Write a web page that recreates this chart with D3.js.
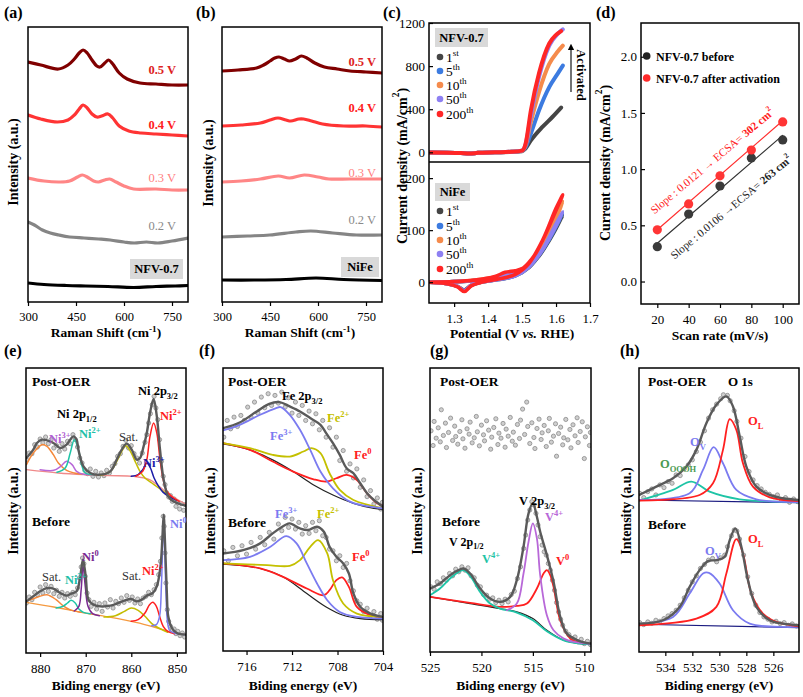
<!DOCTYPE html>
<html><head><meta charset="utf-8">
<script src="https://cdn.jsdelivr.net/npm/d3@7"></script>
<style>body{margin:0;background:#fff}svg{display:block}</style>
</head><body>
<script>
// ================= DATA =================
// (a)/(b) Raman
const ramanTicks=[300,450,600,750];
const ramanLabels=['0.5 V','0.4 V','0.3 V','0.2 V'];
const ramanA_05=[[300,240],[340,237],[395,233],[425,237],[445,243],[460,249],[472,252],[485,249],[500,242],[515,236],[525,235],[540,239],[552,242],[565,238],[585,229],[610,223],[650,219],[700,218],[750,217],[800,217]];
const ramanA_04=[[300,187],[340,183],[392,180],[425,182],[445,187],[460,193],[472,197],[485,194],[500,188],[515,185],[530,186],[550,188],[565,184],[585,176],[615,171],[653,169],[700,168],[750,167],[800,166]];
const ramanA_03=[[300,124],[350,121],[400,120],[430,121],[455,125],[470,127],[485,125],[505,121],[520,120],[540,122],[555,123],[575,120],[600,116],[630,113],[700,113],[750,112],[800,112]];
const ramanA_02=[[300,80],[320,77],[345,72],[370,69],[396,67],[430,65],[475,64],[520,63],[557,62],[600,60],[632,59],[670,60],[706,59],[750,61],[800,64]];
const ramanA_00=[[300,19],[350,17.5],[420,16.5],[480,16],[550,15.5],[630,14.5],[700,15.5],[760,16],[800,16.5]];
const ramanB_05=[[300,231],[350,232],[408,234],[430,237],[450,241],[465,244],[478,245],[495,243],[511,241],[530,243],[548,246],[565,244],[590,239],[620,235],[660,233],[700,231],[750,230],[800,229]];
const ramanB_04=[[300,176],[360,177],[420,179],[450,182],[475,184],[500,182],[515,181],[540,183],[555,183],[580,181],[614,178],[680,176],[750,176],[800,175]];
const ramanB_03=[[300,120],[360,121],[420,123],[476,126],[511,124],[557,127],[600,125],[634,123],[700,123],[800,123]];
const ramanB_02=[[300,65],[380,66],[449,67],[531,70],[578,71],[646,69],[720,67],[800,67]];
const ramanB_00=[[300,22],[400,22],[500,22.5],[594,24],[680,22.5],[800,21.5]];

// (c) polarization curves
const cycleNames=['1','5','10','50','200'];
const cycleSup=['st','th','th','th','th'];
const nfv1=[[1.226,-2],[1.28,-3],[1.32,-6],[1.345,-12],[1.37,-5],[1.42,0],[1.47,4],[1.50,10],[1.51,35],[1.526,110],[1.56,235],[1.59,330],[1.615,415]];
const nfv5=[[1.226,-2],[1.28,-3],[1.32,-6],[1.345,-12],[1.37,-5],[1.42,0],[1.47,5],[1.50,14],[1.51,45],[1.526,175],[1.55,390],[1.58,605],[1.605,730],[1.62,805]];
const nfv10=[[1.226,-2],[1.28,-3],[1.32,-6],[1.345,-12],[1.37,-5],[1.42,0],[1.47,5],[1.50,15],[1.51,60],[1.526,280],[1.55,560],[1.58,820],[1.605,935],[1.62,990]];
const nfv50=[[1.226,-2],[1.28,-3],[1.32,-6],[1.345,-12],[1.37,-5],[1.42,0],[1.47,5],[1.50,16],[1.51,70],[1.526,340],[1.55,700],[1.58,990],[1.605,1100],[1.62,1140]];
const nfv200=[[1.226,-2],[1.28,-3],[1.32,-6],[1.345,-12],[1.37,-5],[1.42,0],[1.47,5],[1.50,16],[1.51,75],[1.526,390],[1.55,735],[1.58,1010],[1.60,1090],[1.615,1125]];
const nife1=[[1.226,0],[1.30,1],[1.36,3],[1.42,8],[1.46,15],[1.49,20],[1.52,30],[1.55,50],[1.58,80],[1.60,103],[1.62,128],[1.60,106],[1.56,60],[1.52,28],[1.48,12],[1.43,5],[1.38,0],[1.35,-6],[1.33,-15],[1.31,-8],[1.27,-2],[1.226,0]];
const nife5=[[1.226,0],[1.30,1],[1.36,3],[1.42,8],[1.46,15],[1.49,20],[1.52,31],[1.55,52],[1.58,82],[1.60,106],[1.62,132],[1.60,110],[1.56,62],[1.52,29],[1.48,12],[1.43,5],[1.38,0],[1.35,-6],[1.33,-16],[1.31,-8],[1.27,-2],[1.226,0]];
const nife10=[[1.226,0],[1.30,1],[1.36,4],[1.42,10],[1.46,18],[1.49,22],[1.52,35],[1.55,60],[1.58,95],[1.60,122],[1.62,155],[1.60,128],[1.56,72],[1.52,33],[1.48,14],[1.43,6],[1.38,0],[1.35,-6],[1.33,-17],[1.31,-8],[1.27,-2],[1.226,0]];
const nife50=[[1.226,0],[1.30,1],[1.36,3],[1.42,8],[1.46,15],[1.49,20],[1.52,31],[1.55,52],[1.58,84],[1.60,108],[1.62,135],[1.60,112],[1.56,63],[1.52,29],[1.48,12],[1.43,5],[1.38,0],[1.35,-6],[1.33,-16],[1.31,-8],[1.27,-2],[1.226,0]];
const nife200=[[1.226,0],[1.30,1],[1.36,4],[1.42,11],[1.45,19],[1.48,22],[1.50,26],[1.52,38],[1.54,55],[1.56,80],[1.58,108],[1.60,138],[1.62,168],[1.60,142],[1.56,80],[1.52,36],[1.48,15],[1.43,6],[1.38,0],[1.35,-7],[1.33,-18],[1.31,-9],[1.27,-2],[1.226,0]];
const cTicksX=[1.3,1.4,1.5,1.6,1.7];
const cTicksUp=[0,400,800,1200];
const cTicksLow=[0,100,200];

// (d) ECSA
const scanRate=[20,40,60,80,100];
const jBefore=[0.31,0.60,0.85,1.10,1.26];
const jAfter=[0.46,0.69,0.94,1.17,1.42];
const fitBefore=[[20,0.34],[100,1.30]];
const fitAfter=[[20,0.46],[100,1.43]];
const dTicksY=[0,0.5,1.0,1.5,2.0];
const legendD=['NFV-0.7 before','NFV-0.7 after activation'];

// (e) Ni 2p XPS
const eTicks=[880,870,860,850];
const ePostRaw=[[883.0,580],[882.4,600],[881.8,598],[881.2,625],[880.6,618],[880.0,642],[879.4,630],[878.8,648],[878.2,628],[877.6,640],[877.0,615],[876.4,622],[875.8,605],[875.2,628],[874.6,612],[874.0,635],[873.4,628],[872.8,655],[872.3,640],[871.8,618],[871.3,585],[870.8,570],[870.2,548],[869.6,538],[869.0,552],[868.4,530],[867.8,545],[867.2,528],[866.6,540],[866.0,532],[865.4,548],[864.8,540],[864.2,560],[863.6,568],[863.0,590],[862.4,598],[861.8,620],[861.2,638],[860.6,615],[860.0,622],[859.4,598],[858.8,585],[858.2,570],[857.6,600],[857.0,632],[856.6,655],[856.2,690],[855.8,718],[855.4,745],[855.0,770],[854.6,735],[854.2,700],[853.8,640],[853.4,575],[853.0,530],[852.6,505],[852.2,480],[851.8,468],[851.4,472],[851.0,455],[850.6,462],[850.2,440],[849.8,450],[849.4,432],[849.0,448],[848.5,428],[848.1,445]];
const ePostFit=[[883.0,585],[881.5,610],[880.7,630],[879.6,640],[878.5,638],[877.1,630],[876.0,618],[875.6,615],[874.2,625],[873.4,640],[872.7,650],[872.0,640],[871.6,610],[870.5,560],[869.0,540],[866.8,535],[864.6,545],[863.2,580],[862.1,610],[861.0,628],[859.9,610],[858.8,580],[858.1,585],[857.3,620],[856.6,660],[855.9,720],[855.1,762],[854.4,710],[853.7,610],[852.9,520],[851.9,470],[850.8,455],[848.9,445],[848.0,442]];
const ePostBg=[[883.0,550],[876,540],[870.5,535],[865,532],[859.5,530],[856,520],[853,490],[851,470],[848.5,450],[848.0,447]];
const ePostSat12=[[883.0,565],[881.5,600],[879.6,625],[878.5,620],[877.1,595],[876.0,570],[874.2,548],[872.5,540],[870.5,536],[867,534]];
const ePostNi3_12=[[880,550],[877,548],[875.5,560],[874.2,575],[873.0,565],[872.0,545],[870.5,536],[868,535]];
const ePostNi2_12=[[876.3,542],[874.5,555],[873.4,600],[872.5,640],[871.6,610],[870.8,560],[870.1,540],[868,535]];
const ePostSat32=[[866.8,533],[864.6,545],[863.2,575],[862.1,605],[861.2,622],[860.2,605],[859.0,570],[858.1,545],[857.0,525],[855.5,510],[854.0,495],[852.0,475],[850.0,458]];
const ePostNi3_32=[[860,530],[858.5,535],[857.5,550],[856.6,570],[855.8,555],[855.0,525],[854.0,500],[853.0,482],[851.5,468],[850,458]];
const ePostNi2_32=[[859,530],[857.5,545],[856.6,580],[855.9,650],[855.1,690],[854.4,660],[853.7,580],[853.0,520],[852.2,485],[851.0,468],[849.5,455]];
const eBefRaw=[[883.0,150],[882.4,168],[881.8,160],[881.2,182],[880.6,175],[880.0,198],[879.4,180],[878.8,205],[878.2,185],[877.6,200],[877.0,178],[876.4,188],[875.8,170],[875.2,182],[874.6,165],[874.0,178],[873.4,170],[872.8,182],[872.3,175],[871.8,195],[871.4,225],[871.0,258],[870.7,285],[870.4,268],[870.1,230],[869.7,180],[869.3,160],[868.8,140],[868.2,152],[867.6,132],[867.0,148],[866.4,125],[865.8,150],[865.2,138],[864.6,160],[864.0,135],[863.4,155],[862.8,148],[862.2,165],[861.6,152],[861.0,172],[860.4,158],[859.8,168],[859.2,150],[858.6,162],[858.0,148],[857.4,165],[856.8,170],[856.2,182],[855.6,175],[855.0,190],[854.5,205],[854.0,235],[853.6,275],[853.3,345],[853.0,410],[852.8,380],[852.6,300],[852.4,210],[852.1,130],[851.8,95],[851.4,80],[851.0,68],[850.6,72],[850.2,58],[849.8,65],[849.3,52],[848.8,60],[848.3,48]];
const eBefFit=[[883.0,155],[881.5,170],[880.0,185],[878.5,195],[877.1,193],[875.6,180],[874.2,172],[873.2,178],[872.0,185],[871.2,230],[870.6,280],[870.0,230],[869.4,160],[868.3,145],[866.8,140],[864.6,142],[863.2,148],[861.4,158],[860.0,162],[858.8,155],[857.7,160],[856.6,172],[855.3,180],[854.4,200],[853.6,260],[853.2,340],[852.9,415],[852.6,330],[852.2,180],[851.9,110],[851.1,75],[850.0,60],[848.0,55]];
const eBefBg=[[883.0,152],[877,138],[871,122],[865,108],[859,92],[855,78],[851,62],[848,55]];
const eBefSat12=[[883.0,155],[880.5,168],[878.5,175],[876.5,160],[875.0,142],[873.5,130],[871,122]];
const eBefNi2_12=[[876.5,135],[875.0,140],[874.0,150],[873.2,158],[872.3,150],[871.5,132],[870.5,122],[869,118]];
const eBefNi0_12=[[872.5,126],[871.5,140],[871.0,190],[870.6,262],[870.1,200],[869.5,140],[868.5,118],[867,112]];
const eBefSat32=[[866,108],[863.5,112],[861.5,125],[860.0,135],[858.5,128],[857.0,110],[855.5,88],[854.0,75],[852,62]];
const eBefNi2_32=[[860,95],[858.5,100],[857.0,120],[856.0,145],[855.3,152],[854.5,140],[853.8,110],[853.0,80],[852,65],[850.5,58]];
const eBefNi0_32=[[855.5,82],[854.5,85],[853.8,110],[853.4,200],[853.1,330],[852.9,405],[852.7,330],[852.4,180],[852.1,100],[851.6,68],[850.5,60],[848,55]];

// (f) Fe 2p XPS
const fTicks=[716,712,708,704];
const fPostRaw=[[718.0,640],[717.7,690],[717.4,665],[717.1,700],[716.8,672],[716.5,705],[716.2,690],[715.9,730],[715.6,700],[715.3,745],[715.0,712],[714.7,760],[714.4,728],[714.1,770],[713.8,735],[713.5,765],[713.2,742],[712.9,775],[712.6,730],[712.3,758],[712.0,712],[711.7,745],[711.4,705],[711.1,735],[710.8,690],[710.5,718],[710.2,680],[709.9,710],[709.6,662],[709.3,690],[709.0,640],[708.7,668],[708.4,610],[708.1,640],[707.8,570],[707.5,600],[707.2,538],[706.9,560],[706.6,518],[706.3,545],[706.0,490],[705.7,512],[705.4,462],[705.1,480],[704.8,440],[704.5,458],[704.2,425],[704.05,445]];
const fPostFit=[[718.07,667],[716.6,684],[715.1,717],[714.0,740],[713.1,745],[712.2,732],[711.3,717],[710.4,697],[709.5,677],[709.0,652],[708.4,622],[707.8,587],[707.2,547],[706.6,532],[706.0,502],[705.4,472],[704.8,452],[704.0,432]];
const fPostFe3=[[718.07,660],[716.6,677],[714.8,707],[713.4,727],[713.0,730],[712.2,707],[711.3,662],[710.4,602],[709.5,537],[708.4,487],[706.9,447],[704.0,427]];
const fPostFe2=[[718.07,622],[715.7,607],[713.7,587],[712.2,582],[711.0,597],[710.3,607],[709.5,592],[708.7,532],[707.8,482],[706.6,452],[704.0,427]];
const fPostFe0=[[718.07,622],[715.7,602],[713.7,567],[711.9,537],[710.1,514],[709.0,507],[708.1,517],[707.2,527],[706.3,512],[705.4,472],[704.5,442],[704.0,434]];
const fPostBg=[[718.07,620],[715.7,602],[713.7,572],[711.9,537],[710.1,497],[708.4,467],[706.6,442],[704.8,427],[704.0,424]];
const fBefRaw=[[718.0,300],[717.6,270],[717.2,310],[716.8,285],[716.4,315],[716.0,290],[715.6,325],[715.2,305],[714.8,340],[714.4,318],[714.0,355],[713.6,335],[713.2,380],[712.9,360],[712.6,400],[712.3,370],[712.0,395],[711.7,365],[711.4,385],[711.1,350],[710.8,375],[710.5,352],[710.2,385],[709.9,360],[709.6,390],[709.3,345],[709.0,340],[708.7,305],[708.4,300],[708.1,270],[707.8,285],[707.5,250],[707.2,262],[706.9,210],[706.6,180],[706.3,150],[706.0,140],[705.7,118],[705.4,128],[705.1,105],[704.8,118],[704.5,95],[704.2,112],[704.05,92]];
const fBefFit=[[718.07,292],[716.3,302],[714.8,322],[713.7,352],[712.6,377],[712.2,382],[711.3,367],[710.6,362],[709.8,372],[709.2,357],[708.7,312],[708.1,282],[707.5,262],[707.0,232],[706.6,172],[706.0,132],[705.1,112],[704.0,102]];
const fBefFe3=[[718.07,272],[715.7,282],[713.9,312],[712.5,344],[711.6,322],[710.7,262],[709.8,202],[708.9,152],[707.8,117],[706.3,102],[704.0,97]];
const fBefFe2=[[718.07,262],[714.2,257],[712.2,255],[711.3,272],[710.4,312],[709.7,332],[708.9,292],[708.4,212],[707.5,142],[706.3,112],[704.0,102]];
const fBefFe0=[[718.07,262],[714.8,247],[712.8,222],[710.7,187],[709.2,167],[708.7,182],[708.1,212],[707.6,220],[707.0,192],[706.3,132],[705.1,107],[704.0,100]];
const fBefBg=[[718.07,260],[714.8,247],[712.8,222],[710.7,172],[709.0,132],[707.5,107],[706.0,97],[704.0,94]];

// (g) V 2p XPS
const gTicks=[525,520,515,510];
const gPostRaw=[[524.9,662],[524.7,618],[524.6,690],[524.4,640],[524.2,671],[524.0,629],[523.9,725],[523.7,648],[523.5,685],[523.4,612],[523.2,657],[523.0,700],[522.8,633],[522.6,676],[522.5,645],[522.3,622],[522.1,660],[521.9,695],[521.8,638],[521.6,610],[521.4,668],[521.2,652],[521.1,688],[520.9,626],[520.7,641],[520.5,705],[520.4,659],[520.2,617],[520.0,679],[519.8,650],[519.7,632],[519.5,692],[519.3,664],[519.1,607],[519.0,643],[518.8,672],[518.6,698],[518.4,621],[518.3,655],[518.1,640],[517.9,684],[517.7,613],[517.6,667],[517.4,646],[517.2,702],[517.0,631],[516.9,658],[516.7,619],[516.5,681],[516.3,639],[516.2,694],[516.0,727],[515.8,651],[515.6,748],[515.5,675],[515.3,624],[515.1,686],[514.9,642],[514.8,609],[514.6,669],[514.4,697],[514.2,636],[514.1,656],[513.9,678],[513.7,615],[513.5,662],[513.4,699],[513.2,628],[513.0,646],[512.8,683],[512.7,586],[512.5,654],[512.3,673],[512.1,620],[512.0,641],[511.8,696],[511.6,635],[511.4,666],[511.3,611],[511.1,680],[510.9,647],[510.7,701],[510.6,627],[510.4,660],[510.2,689],[510.0,579],[509.9,644],[509.7,674],[509.5,618],[509.4,657]];
const gBefRaw=[[524.9,195],[524.6,188],[524.3,210],[524.0,205],[523.7,222],[523.4,215],[523.1,235],[522.8,228],[522.5,248],[522.2,240],[521.9,255],[521.6,245],[521.3,252],[521.0,228],[520.7,222],[520.4,200],[520.1,195],[519.8,172],[519.5,170],[519.2,158],[518.9,162],[518.6,148],[518.3,155],[518.0,145],[517.7,158],[517.4,150],[517.1,172],[516.8,182],[516.5,220],[516.2,255],[515.9,310],[515.7,350],[515.5,395],[515.3,425],[515.1,450],[514.9,440],[514.7,415],[514.5,380],[514.3,345],[514.1,320],[513.9,300],[513.7,290],[513.5,265],[513.3,245],[513.1,215],[512.9,185],[512.7,148],[512.5,120],[512.3,98],[512.1,80],[511.8,62],[511.5,52],[511.2,40],[510.9,45],[510.6,30],[510.3,38],[510.0,25],[509.7,32],[509.4,22]];
const gBefFit=[[525,190],[524.03,205],[523.05,230],[522.08,247],[521.75,250],[521.10,235],[520.13,190],[519.16,160],[518.18,150],[517.21,165],[516.56,215],[515.91,315],[515.42,415],[515.0,445],[514.61,405],[514.29,360],[513.64,290],[512.99,210],[512.34,105],[511.69,55],[510.39,32],[509.35,25]];
const gBefBg=[[525,165],[521.1,145],[518.18,130],[516.56,120],[515.0,100],[513.64,65],[512.0,35],[510.4,25],[509.35,23]];
const gBefV4_12=[[525,170],[524.03,190],[523.05,220],[522.08,242],[521.75,245],[521.1,228],[520.13,180],[519.16,145],[518.18,130],[516.56,118],[515.0,95],[513.64,62],[512.0,35],[510.4,25],[509.35,23]];
const gBefV0=[[525,165],[521.1,147],[518.18,135],[516.56,138],[515.58,145],[514.61,190],[513.96,235],[513.64,245],[513.31,230],[512.99,195],[512.34,95],[511.36,40],[510.39,28],[509.35,24]];
const gBefV4_32=[[517.53,125],[516.56,145],[515.91,235],[515.42,330],[515.0,385],[514.61,340],[514.29,230],[513.64,110],[512.99,65],[512.0,40],[511.0,30],[509.35,24]];

// (h) O 1s XPS
const hTicks=[534,532,530,528,526];
const hPostRaw=[[535.9,475],[535.6,462],[535.3,480],[535.0,488],[534.7,470],[534.4,500],[534.1,492],[533.8,510],[533.5,505],[533.2,530],[532.9,528],[532.6,548],[532.3,560],[532.0,575],[531.7,600],[531.4,628],[531.1,662],[530.8,700],[530.5,725],[530.2,742],[529.9,758],[529.7,770],[529.4,768],[529.2,752],[528.9,722],[528.7,690],[528.4,640],[528.1,585],[527.8,540],[527.5,515],[527.2,498],[526.9,488],[526.6,478],[526.3,472],[526.0,465],[525.7,470],[525.4,455],[525.1,462],[524.8,448],[524.5,458],[524.2,450]];
const hPostFit=[[535.95,470],[534.67,495],[533.43,520],[532.44,555],[531.7,605],[530.96,685],[530.22,740],[529.48,765],[528.99,735],[528.49,645],[528.0,555],[527.26,495],[526.27,470],[525.28,460],[524.17,455]];
const hPostBg=[[535.95,455],[524.1,447]];
const hPostOOOH=[[535.95,453],[533.43,485],[532.07,510],[530.72,480],[528.49,457],[525.78,450],[524.1,448]];
const hPostOV=[[535.95,455],[532.2,475],[531.21,545],[530.42,613],[529.73,565],[528.74,485],[527.26,457],[524.1,449]];
const hPostOL=[[535.95,453],[531.46,470],[530.47,505],[529.73,605],[529.23,697],[528.74,665],[528.25,565],[527.51,495],[526.27,463],[524.1,452]];
const hBefRaw=[[535.9,88],[535.6,82],[535.3,90],[535.0,86],[534.7,95],[534.4,92],[534.1,100],[533.8,108],[533.5,115],[533.2,125],[532.9,140],[532.6,162],[532.3,185],[532.0,210],[531.7,228],[531.4,250],[531.1,262],[530.8,275],[530.5,280],[530.2,270],[529.9,282],[529.6,290],[529.4,315],[529.1,348],[528.9,365],[528.7,362],[528.5,338],[528.2,290],[527.9,225],[527.6,175],[527.3,140],[527.0,118],[526.7,105],[526.4,98],[526.1,90],[525.8,92],[525.5,85],[525.2,88],[524.9,80],[524.6,84],[524.3,78]];
const hBefFit=[[535.95,85],[534.17,95],[532.94,135],[532.2,195],[531.46,245],[530.84,272],[530.22,275],[529.6,285],[529.23,335],[528.81,370],[528.37,315],[527.88,215],[527.26,135],[526.27,95],[525.28,85],[524.17,80]];
const hBefBg=[[535.95,83],[524.1,73]];
const hBefOV=[[535.95,83],[533.43,105],[532.2,175],[531.21,235],[530.77,237],[529.98,205],[528.99,125],[527.75,85],[524.1,75]];
const hBefOL=[[535.95,80],[531.7,100],[530.22,135],[529.48,235],[528.74,338],[528.25,295],[527.63,175],[526.77,115],[525.78,90],[524.1,77]];

// ================= DRAWING =================
const FONT='"Liberation Serif","Times New Roman",serif';
const svg=d3.select('body').append('svg').attr('width',803).attr('height',697).style('font-family',FONT);

function rich(parent,x,y,parts,o={}){
  const size=o.size||12;
  const g=parent.append('g').attr('transform',`translate(${x},${y})`+(o.rotate?` rotate(${o.rotate})`:''));
  const t=g.append('text').attr('font-size',size).attr('font-weight',o.weight||'normal')
    .attr('fill',o.fill||'#000').attr('text-anchor',o.anchor||'start');
  if(o.baseline) t.attr('dominant-baseline',o.baseline);
  let cur=0;
  parts.forEach(p=>{
    const s=(typeof p==='string')?{t:p}:p;
    const target=s.sup?-size*0.4:(s.sub?size*0.28:0);
    const ts=t.append('tspan').text(s.t).attr('dy',target-cur);
    cur=target;
    if(s.sup||s.sub) ts.attr('font-size',size*0.68);
    if(s.w) ts.attr('font-weight',s.w);
    if(s.i) ts.attr('font-style','italic');
    if(s.fill) ts.attr('fill',s.fill);
  });
  return t;
}
function frame(x0,x1,y0,y1){
  svg.append('rect').attr('x',x0).attr('y',y0).attr('width',x1-x0).attr('height',y1-y0)
    .attr('fill','none').attr('stroke','#000').attr('stroke-width',1.5);
}
function xAxis(x,yPos,ticks,pad,fmt,size){
  const a=d3.axisBottom(x).tickValues(ticks).tickSizeInner(4).tickSizeOuter(0).tickPadding(pad);
  if(fmt) a.tickFormat(fmt);
  const g=svg.append('g').attr('transform',`translate(0,${yPos})`).call(a);
  g.select('.domain').remove();
  g.selectAll('text').attr('font-family',FONT).attr('font-size',size||13).attr('fill','#000');
  g.selectAll('line').attr('stroke','#000').attr('stroke-width',1.2);
}
function yAxis(y,xPos,ticks,fmt){
  const a=d3.axisLeft(y).tickValues(ticks).tickSizeInner(-4).tickSizeOuter(0).tickPadding(4);
  if(fmt) a.tickFormat(fmt);
  const g=svg.append('g').attr('transform',`translate(${xPos},0)`).call(a);
  g.select('.domain').remove();
  g.selectAll('text').attr('font-family',FONT).attr('font-size',13).attr('fill','#000');
  g.selectAll('line').attr('stroke','#000').attr('stroke-width',1.2);
}
function path(x,y,data,color,width,curve,clip){
  const line=d3.line().x(d=>x(d[0])).y(d=>y(d[1])).curve(curve||d3.curveCatmullRom.alpha(0.5));
  const p=svg.append('path').datum(data).attr('d',line).attr('fill','none')
    .attr('stroke',color).attr('stroke-width',width).attr('stroke-linejoin','round').attr('stroke-linecap','round');
  if(clip) p.attr('clip-path',`url(#${clip})`);
  return p;
}
function clipRect(id,x0,x1,y0,y1){
  svg.append('clipPath').attr('id',id).append('rect').attr('x',x0).attr('y',y0).attr('width',x1-x0).attr('height',y1-y0);
}
function yTitle(x,y,parts,size){
  rich(svg,x,y,parts,{size:size||14,weight:'bold',anchor:'middle',rotate:-90,baseline:'central'});
}
function xTitle(x,y,parts,size){
  rich(svg,x,y,parts,{size:size||13.5,weight:'bold',anchor:'middle'});
}
function panelLabel(x,y,s){
  svg.append('text').attr('x',x).attr('y',y).attr('font-size',16).attr('font-weight','bold').text(s);
}
function box(x0,y0,w,h,label){
  svg.append('rect').attr('x',x0).attr('y',y0).attr('width',w).attr('height',h).attr('fill','#d9d9d9');
  svg.append('text').attr('x',x0+w/2).attr('y',y0+h/2).attr('dominant-baseline','central')
    .attr('text-anchor','middle').attr('font-size',12.5).attr('font-weight','bold').text(label);
}

// ---- (a) & (b) ----
const ramanColors=['#800000','#ff3434','#ff8686','#858585','#000000'];
const ramanLabelColors=['#dd2222','#ff2020','#ff7f7f','#8a8a8a'];
function ramanPanel(x0,x1,series,labelX,labelYs,boxArgs){
  const y0=27,y1=302;
  const x=d3.scaleLinear().domain([300,800]).range([x0,x1]);
  const y=d3.scaleLinear().domain([0,275]).range([y1,y0]);
  const id='clip'+x0;
  clipRect(id,x0,x1,y0,y1);
  series.forEach((s,i)=>path(x,y,s,ramanColors[i],3.2,null,id));
  ramanLabels.forEach((l,i)=>{
    svg.append('text').attr('x',labelX).attr('y',labelYs[i]).attr('text-anchor','end')
      .attr('font-size',12.5).attr('font-weight',i<2?'bold':'normal').attr('fill',ramanLabelColors[i]).text(l);
  });
  box(...boxArgs);
  frame(x0,x1,y0,y1);
  xAxis(x,y1,ramanTicks,6.5,null,12.5);
  xTitle((x0+x1)/2-2,337,['Raman Shift (cm',{t:'-1',sup:true},')']);
}
ramanPanel(28,188,[ramanA_05,ramanA_04,ramanA_03,ramanA_02,ramanA_00],176,[74,129,182,230],[130,259,53,20,'NFV-0.7']);
yTitle(13,162,['Intensity (a.u.)']);
panelLabel(4,18,'(a)');
ramanPanel(222,382,[ramanB_05,ramanB_04,ramanB_03,ramanB_02,ramanB_00],376,[66,112,177,224],[341,257,38,20,'NiFe']);
yTitle(208,163,['Intensity (a.u.)']);
panelLabel(196,18,'(b)');

// ---- (c) ----
(function(){
  const x0=429,x1=590,y0=23,ym=162,y1=303;
  const x=d3.scaleLinear().domain([1.226,1.7]).range([x0,x1]);
  const yU=d3.scaleLinear().domain([-90,1200]).range([ym,y0]);
  const yL=d3.scaleLinear().domain([-40,231]).range([y1,ym]);
  const cols=['#454545','#3c7be0','#f58b4c','#8e80f2','#ff2626'];
  clipRect('clipCU',x0,x1,y0,ym); clipRect('clipCL',x0,x1,ym,y1);
  [nfv1,nfv5,nfv10,nfv50,nfv200].forEach((s,i)=>path(x,yU,s,cols[i],4,d3.curveMonotoneX,'clipCU'));
  [nife1,nife5,nife10,nife50,nife200].forEach((s,i)=>path(x,yL,s,cols[i],3.6,null,'clipCL'));
  frame(x0,x1,y0,y1);
  svg.append('line').attr('x1',x0).attr('x2',x1).attr('y1',ym).attr('y2',ym).attr('stroke','#000').attr('stroke-width',1.5);
  yAxis(yU,x0,cTicksUp,d3.format('d'));
  yAxis(yL,x0,cTicksLow,d3.format('d'));
  xAxis(x,y1,cTicksX,7,d3.format('.1f'),13);
  box(435,28,53,19,'NFV-0.7');
  box(435,183,35,18,'NiFe');
  const upY=[57,71,85,99,114], loY=[211,226,240,254,269];
  cycleNames.forEach((n,i)=>{
    [upY[i],loY[i]].forEach(yy=>{
      svg.append('circle').attr('cx',440).attr('cy',yy).attr('r',3.3).attr('fill',cols[i]);
      rich(svg,446,yy+4.5,[n,{t:cycleSup[i],sup:true}],{size:13.5});
    });
  });
  svg.append('defs').append('marker').attr('id','arr').attr('viewBox','0 0 10 10').attr('refX',5).attr('refY',5)
    .attr('markerWidth',6).attr('markerHeight',6).attr('orient','auto-start-reverse')
    .append('path').attr('d','M0,0 L10,5 L0,10 z').attr('fill','#000');
  svg.append('line').attr('x1',571).attr('x2',571).attr('y1',92).attr('y2',47).attr('stroke','#000').attr('stroke-width',1.1).attr('marker-end','url(#arr)');
  rich(svg,581,75,['Activated'],{size:12.5,weight:'bold',anchor:'middle',rotate:90,baseline:'central'});
  yTitle(402,166,['Current density (mA/cm',{t:'2',sup:true},')']);
  xTitle(512,338,['Potential (V ',{t:'vs.',i:true},' RHE)']);
  panelLabel(383,18,'(c)');
})();

// ---- (d) ----
(function(){
  const x0=641,x1=799,y0=23,y1=304;
  const x=d3.scaleLinear().domain([9.6,110.4]).range([x0,x1]);
  const y=d3.scaleLinear().domain([-0.2,2.3]).range([y1,y0]);
  path(x,y,fitBefore,'#333',1.2,d3.curveLinear);
  path(x,y,fitAfter,'#ff3030',1.2,d3.curveLinear);
  svg.selectAll('.pb').data(scanRate).enter().append('circle').attr('cx',d=>x(d)).attr('cy',(d,i)=>y(jBefore[i])).attr('r',4.6).attr('fill','#3a3a3a');
  svg.selectAll('.pa').data(scanRate).enter().append('circle').attr('cx',d=>x(d)).attr('cy',(d,i)=>y(jAfter[i])).attr('r',4.6).attr('fill','#ff3535');
  frame(x0,x1,y0,y1);
  yAxis(y,x0,dTicksY,d3.format('.1f'));
  xAxis(x,y1,scanRate,7,null,13);
  svg.append('circle').attr('cx',646.7).attr('cy',56).attr('r',3.8).attr('fill','#222');
  svg.append('circle').attr('cx',646.7).attr('cy',78).attr('r',3.8).attr('fill','#ff2a2a');
  svg.append('text').attr('x',656).attr('y',60.5).attr('font-size',12).attr('font-weight','bold').text(legendD[0]);
  svg.append('text').attr('x',656).attr('y',82.5).attr('font-size',12).attr('font-weight','bold').text(legendD[1]);
  rich(svg,712,161,['Slope : 0.0121 \u2192 ECSA= ',{t:'302 cm',w:'bold'},{t:'2',sup:true,w:'bold'}],{size:11.2,fill:'#ff2020',anchor:'middle',rotate:-40,baseline:'central'});
  rich(svg,731,207,['Slope : 0.0106 \u2192ECSA= ',{t:'263 cm',w:'bold'},{t:'2',sup:true,w:'bold'}],{size:11.2,fill:'#222',anchor:'middle',rotate:-40,baseline:'central'});
  yTitle(605,163,['Current density (mA/cm',{t:'2',sup:true},')']);
  xTitle(720,340,['Scan rate (mV/s)']);
  panelLabel(596,18,'(d)');
})();

// ---- XPS panels ----
function xps(id,x0,x1,y1,xdom,ymax,ticks,spectra){
  const y0=368;
  const x=d3.scaleLinear().domain(xdom).range([x0,x1]);
  const y=d3.scaleLinear().domain([0,ymax]).range([y1,y0]);
  clipRect(id,x0,x1,y0,y1);
  spectra.forEach(sp=>{
    if(sp.raw){
      svg.append('g').attr('clip-path',`url(#${id})`).selectAll('circle').data(sp.raw).enter().append('circle')
        .attr('cx',d=>x(d[0])).attr('cy',d=>y(d[1])).attr('r',2.1)
        .attr('fill','#cfcfcf').attr('stroke','#8a8a8a').attr('stroke-width',0.8);
    }
    (sp.comps||[]).forEach(c=>path(x,y,c[0],c[1],c[2]||1.5,null,id));
    if(sp.fit) path(x,y,sp.fit,'#5a5a5a',2.4,null,id);
  });
  frame(x0,x1,y0,y1);
  xAxis(x,y1,ticks,7,null,13);
  xTitle((x0+x1)/2,690,['Biding energy (eV)']);
  yTitle(x0-13,511,['Intensity (a.u.)']);
  return {x,y};
}
const L=(x,y,parts,fill,o={})=>rich(svg,x,y,parts,Object.assign({size:12.5,weight:'bold',fill:fill},o));

// (e)
xps('clipE',26,186,653,[883.1,848],855,eTicks,[
  {raw:ePostRaw,comps:[[ePostBg,'#f08a8a',1.3],[ePostSat12,'#f5883a'],[ePostNi3_12,'#b868d8'],[ePostNi2_12,'#1ec4a6'],[ePostSat32,'#c4bc00'],[ePostNi3_32,'#1c1ca8'],[ePostNi2_32,'#ff2020']],fit:ePostFit},
  {raw:eBefRaw,comps:[[eBefBg,'#f59a40',1.3],[eBefSat12,'#f5883a'],[eBefNi2_12,'#1ec4a6'],[eBefNi0_12,'#7a2a92'],[eBefSat32,'#c4bc00'],[eBefNi2_32,'#ff2020'],[eBefNi0_32,'#7b7bf0']],fit:eBefFit}
]);
L(32,386,['Post-OER'],'#000',{size:13.5});
L(138,395,['Ni 2p',{t:'3/2',sub:true}],'#000');
L(57,418,['Ni 2p',{t:'1/2',sub:true}],'#000');
L(49,443,['Ni',{t:'3+',sup:true}],'#b060d0');
L(79,438,['Ni',{t:'2+',sup:true}],'#20c0a8');
L(119,441,['Sat.'],'#333',{weight:'normal'});
L(143,467,['Ni',{t:'3+',sup:true}],'#1c1ca8');
L(160,420,['Ni',{t:'2+',sup:true}],'#ff2020');
L(32,526,['Before'],'#000',{size:13.5});
L(42,581,['Sat.'],'#333',{weight:'normal'});
L(65,584,['Ni',{t:'2+',sup:true}],'#20c0a8');
L(82,561,['Ni',{t:'0',sup:true}],'#7a2a92');
L(122,580,['Sat.'],'#333',{weight:'normal'});
L(142,575,['Ni',{t:'2+',sup:true}],'#ff2020');
L(170,528,['Ni',{t:'0',sup:true}],'#7b7bf0');
panelLabel(4,356,'(e)');

// (f)
xps('clipF',223,383,651,[718.07,704],847,fTicks,[
  {raw:fPostRaw,comps:[[fPostBg,'#222',1.2],[fPostFe0,'#ff2020',1.8],[fPostFe2,'#c4c000',1.8],[fPostFe3,'#7b7bf0',1.8]],fit:fPostFit},
  {raw:fBefRaw,comps:[[fBefBg,'#222',1.2],[fBefFe0,'#ff2020',1.8],[fBefFe2,'#c4c000',1.8],[fBefFe3,'#7b7bf0',1.8]],fit:fBefFit}
]);
L(228,386,['Post-OER'],'#000',{size:13.5});
L(282,400,['Fe 2p',{t:'3/2',sub:true}],'#000');
L(270,440,['Fe',{t:'3+',sup:true}],'#7b7bf0');
L(327,422,['Fe',{t:'2+',sup:true}],'#c4c000');
L(354,459,['Fe',{t:'0',sup:true}],'#ff2020');
L(228,527,['Before'],'#000',{size:13.5});
L(275,518,['Fe',{t:'3+',sup:true}],'#7b7bf0');
L(317,518,['Fe',{t:'2+',sup:true}],'#c4c000');
L(352,561,['Fe',{t:'0',sup:true}],'#ff2020');
panelLabel(199,356,'(f)');

// (g)
xps('clipG',430,591,652,[525,509.35],850,gTicks,[
  {raw:gPostRaw},
  {raw:gBefRaw,comps:[[gBefBg,'#222',1.2],[gBefV0,'#ff2020',1.8],[gBefV4_12,'#1ec4a6',1.8],[gBefV4_32,'#b868d8',1.8]],fit:gBefFit}
]);
L(440,386,['Post-OER'],'#000',{size:13.5});
L(519,505,['V 2p',{t:'3/2',sub:true}],'#000');
L(545,521,['V',{t:'4+',sup:true}],'#b868d8');
L(442,526,['Before'],'#000',{size:13.5});
L(449,546,['V 2p',{t:'1/2',sub:true}],'#000',{size:12});
L(482,563,['V',{t:'4+',sup:true}],'#1ec4a6');
L(556,565,['V',{t:'0',sup:true}],'#ff2020');
panelLabel(430,356,'(g)');

// (h)
xps('clipH',639,799,652,[535.95,524.1],850,hTicks,[
  {raw:hPostRaw,comps:[[hPostBg,'#1a1a80',1.2],[hPostOOOH,'#1ec4a6',1.8],[hPostOV,'#7b7bf0',1.8],[hPostOL,'#ff2020',1.8]],fit:hPostFit},
  {raw:hBefRaw,comps:[[hBefBg,'#1a1a80',1.2],[hBefOV,'#7b7bf0',1.8],[hBefOL,'#ff2020',1.8]],fit:hBefFit}
]);
L(648,386,['Post-OER'],'#000',{size:13.5});
L(728,386,['O 1s'],'#000',{size:13});
L(748,425,['O',{t:'L',sub:true}],'#ff2020');
L(690,446,['O',{t:'V',sub:true}],'#7b7bf0');
L(660,468,['O',{t:'OOOH',sub:true}],'#4a9a50');
L(648,529,['Before'],'#000',{size:13.5});
L(705,555,['O',{t:'V',sub:true}],'#7b7bf0');
L(748,543,['O',{t:'L',sub:true}],'#ff2020');
panelLabel(620,356,'(h)');
</script>
</body></html>
